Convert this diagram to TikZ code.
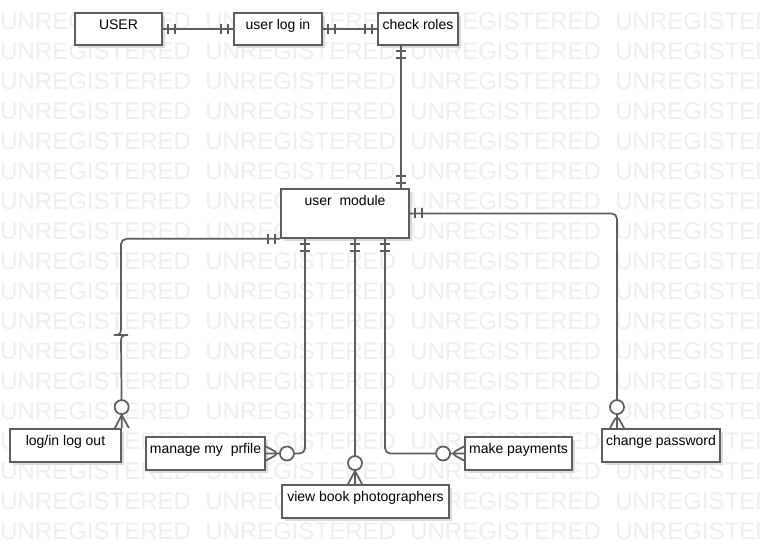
\documentclass[tikz,border=0pt]{standalone}
\usepackage{fontspec}
\setmainfont{Liberation Sans}
\usepackage{tikz}
\usetikzlibrary{positioning,shadows,decorations.markings}
\definecolor{erline}{HTML}{5E5E5E}
\definecolor{wmark}{HTML}{EEEEEE}

\begin{document}
\begin{tikzpicture}[
x=0.75pt, y=-0.75pt,
font=\fontsize{10.5}{12}\selectfont,
watermark/.style={text=wmark, font=\fontsize{18}{20}\selectfont, anchor=west, inner sep=0pt},
entity/.style 2 args={draw=erline, line width=1.3pt, fill=white, inner sep=0pt,
  minimum width=#1*0.75pt, minimum height=#2*0.75pt,
  drop shadow={shadow xshift=2.5pt, shadow yshift=-2.5pt, fill=black!14, opacity=1}},
title/.style={anchor=base, yshift=-13pt, inner sep=0pt},
link/.style={draw=erline, line width=1.3pt},
tick/.style={draw=erline, line width=1.3pt},
one start/.style={postaction={decorate, decoration={markings,
  mark=at position 4pt with {\draw[tick] (0,-3.75pt) -- (0,3.75pt);},
  mark=at position 9pt with {\draw[tick] (0,-3.75pt) -- (0,3.75pt);}}}},
one end/.style={postaction={decorate, decoration={markings,
  mark=at position -4pt with {\draw[tick] (0,-3.75pt) -- (0,3.75pt);},
  mark=at position -9pt with {\draw[tick] (0,-3.75pt) -- (0,3.75pt);}}}},
many end/.style={postaction={decorate, decoration={markings,
  mark=at position -0.05pt with {\draw[tick] (0,-5.25pt) -- (-9.75pt,0) -- (0,5.25pt);
    \draw[tick, fill=white] (-15.75pt,0) circle (5.25pt);}}}}
]
    % Background and watermark
    \fill[white] (0,0) rectangle (760,559);
    \useasboundingbox (0,0) rectangle (760,559);
    \foreach \r in {0,...,17}
      \foreach \c in {0,...,3}
        \node[watermark] (wm-\r-\c) at (\c*205, 21+\r*30) {UNREGISTERED};

    % Entities
    \node[entity={87}{32}, label={[title]north:USER}] (user) at (118.5,29) {};
    \node[entity={88}{32}, label={[title]north:user log in}] (login) at (278,29) {};
    \node[entity={80}{32}, label={[title]north:check roles}] (roles) at (418,29) {};
    \node[entity={128}{49}, label={[title]north:user\ \ module}] (module) at (345,213.5) {};
    \node[entity={111}{33}, label={[title]north:log/in log out}] (logout) at (65.5,445.5) {};
    \node[entity={119}{33}, label={[title]north:manage my\ \ prfile}] (profile) at (205.5,453.5) {};
    \node[entity={167}{33}, label={[title]north:view book photographers}] (photog) at (365.5,501.5) {};
    \node[entity={107}{33}, label={[title]north:make payments}] (payment) at (518.5,453.5) {};
    \node[entity={118}{33}, label={[title]north:change password}] (passwd) at (661,445.5) {};

    \coordinate (xroles) at (401,0);
    \coordinate (xprof) at (305,0);
    \coordinate (xphot) at (355,0);
    \coordinate (xpay) at (385,0);
    \coordinate (xpwd) at (617,0);
    \coordinate (hoptop) at (121,329);
    \coordinate (hopbot) at (121,341);

    % Relations
    \draw[link, one start, one end] (user) -- (login);
    \draw[link, one start, one end] (login) -- (roles);
    \draw[link, one start, one end] (roles.south -| xroles) -- (module.north -| xroles);
    \draw[link, one start, many end, rounded corners=4pt] (module.east) -| (passwd.north -| xpwd);
    \draw[link, one start, rounded corners=4pt] (module.south west) -| (hoptop);
    \draw[link] (hoptop) .. controls (121,334) and (119,335) .. (114,335) -- (128,335)
        .. controls (123,335) and (121,336) .. (hopbot);
    \draw[link, many end] (hopbot) -- (logout.north east);
    \draw[link, one start, many end, rounded corners=4pt] (module.south -| xprof) |- (profile.east);
    \draw[link, one start, many end] (module.south -| xphot) -- (photog.north -| xphot);
    \draw[link, one start, many end, rounded corners=4pt] (module.south -| xpay) |- (payment.west);

\end{tikzpicture}
\end{document}
